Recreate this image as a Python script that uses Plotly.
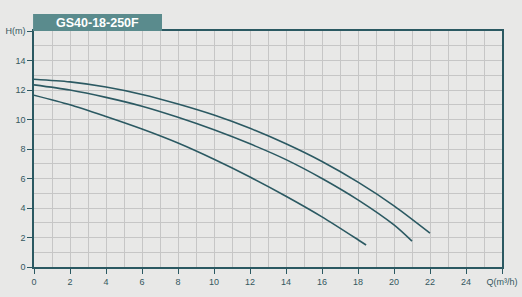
import plotly.graph_objects as go

# Data
q_top = [0, 2, 4, 6, 8, 10, 12, 14, 16, 18, 20, 22]
h_top = [12.73, 12.55, 12.2, 11.7, 11.05, 10.3, 9.4, 8.35, 7.15, 5.75, 4.15, 2.3]

q_mid = [0, 2, 4, 6, 8, 10, 12, 14, 16, 18, 20, 21]
h_mid = [12.35, 12.0, 11.5, 10.9, 10.15, 9.3, 8.35, 7.28, 6.0, 4.55, 2.85, 1.75]

q_bot = [0, 2, 4, 6, 8, 10, 12, 14, 16, 18, 18.45]
h_bot = [11.65, 11.0, 10.2, 9.35, 8.4, 7.3, 6.1, 4.8, 3.4, 1.85, 1.49]

x_ticks = list(range(0, 27, 2))
x_labels = [str(v) for v in range(0, 25, 2)] + ["Q(m³/h)"]
y_ticks = list(range(0, 17, 2))
y_labels = [str(v) for v in range(0, 15, 2)] + ["H(m)"]
title_text = "GS40-18-250F"

teal = "#2b5962"
grid = "#c6c6c6"
bg = "#e8e8e7"

fig = go.Figure()
for q, h in [(q_top, h_top), (q_mid, h_mid), (q_bot, h_bot)]:
    fig.add_trace(go.Scatter(x=q, y=h, mode="lines",
                             line=dict(color=teal, width=1.6, shape="spline", smoothing=0.8),
                             showlegend=False, hoverinfo="skip"))

axis_font = dict(family="Liberation Sans, Arial, sans-serif", size=9, color="#34575e")

fig.update_layout(
    width=522, height=297,
    margin=dict(l=34, r=20, t=31, b=30),
    paper_bgcolor=bg, plot_bgcolor=bg,
    xaxis=dict(range=[0, 26], tickmode="array", tickvals=x_ticks, ticktext=x_labels,
               showgrid=True, gridcolor=grid, gridwidth=1,
               minor=dict(tickmode="linear", tick0=0, dtick=1, showgrid=True,
                          gridcolor=grid, gridwidth=1, ticks=""),
               showline=True, linecolor=teal, linewidth=1.5, mirror=True,
               ticks="outside", ticklen=5, tickcolor=teal, tickwidth=1.2,
               tickfont=axis_font, zeroline=False, fixedrange=True, automargin=False),
    yaxis=dict(range=[0, 16], tickmode="array", tickvals=y_ticks, ticktext=y_labels,
               showgrid=True, gridcolor=grid, gridwidth=1,
               minor=dict(tickmode="linear", tick0=0, dtick=1, showgrid=True,
                          gridcolor=grid, gridwidth=1, ticks=""),
               showline=True, linecolor=teal, linewidth=1.5, mirror=True,
               ticks="outside", ticklen=5, tickcolor=teal, tickwidth=1.2,
               tickfont=axis_font, zeroline=False, fixedrange=True, automargin=False),
    shapes=[dict(type="rect", xref="paper", yref="paper",
                 x0=-0.002, x1=0.2735, y0=1.0, y1=1.072,
                 fillcolor="#5a8b8d", line=dict(width=0), layer="above")],
    annotations=[dict(text="<b>" + title_text + "</b>", xref="paper", yref="paper",
                      x=0.136, y=1.036, showarrow=False, xanchor="center", yanchor="middle",
                      font=dict(family="Liberation Sans, Arial, sans-serif", size=12.5, color="white"))],
)

fig.write_html("out.html")
